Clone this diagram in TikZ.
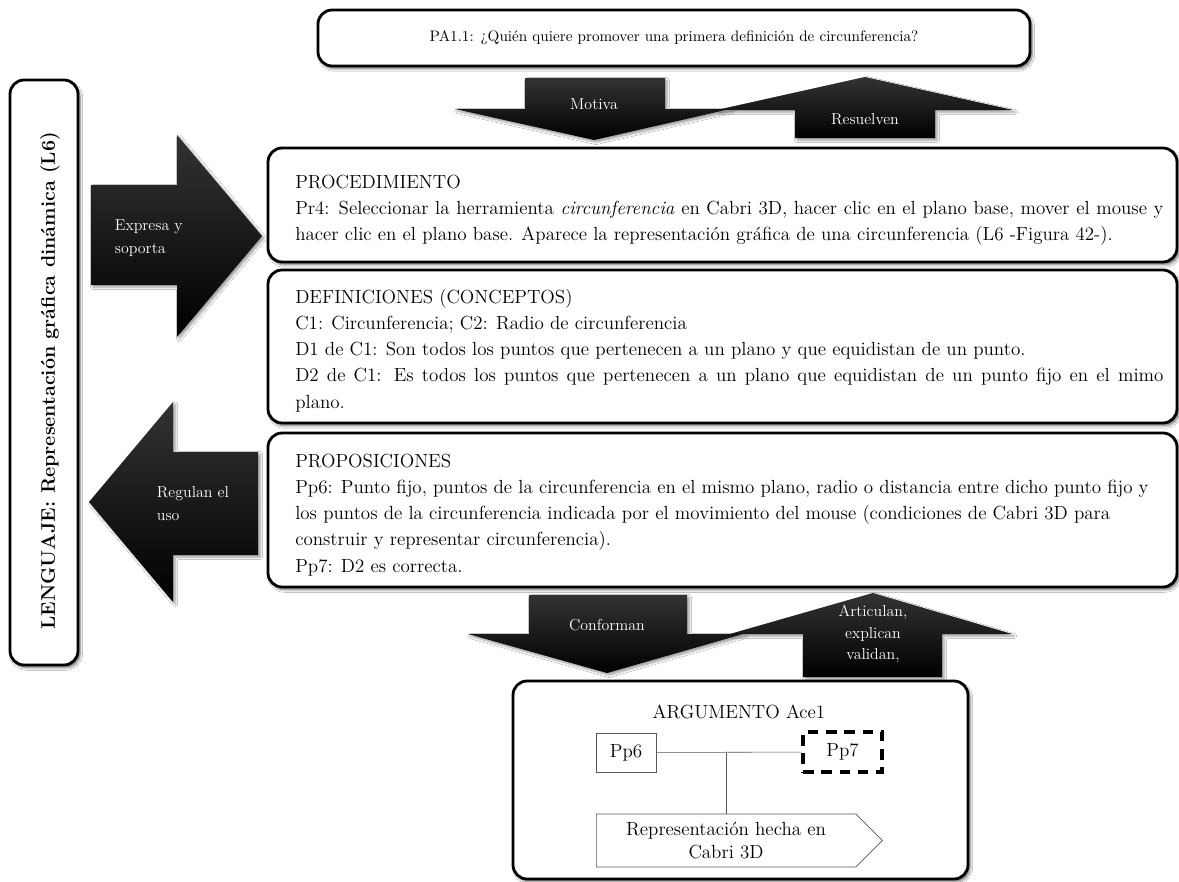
\documentclass[tikz,border=0pt]{standalone}
\usepackage{tikz}
\usetikzlibrary{shapes.symbols,positioning,calc,fit,shadows.blur}

\tikzset{
    caja/.style={draw, line width=2pt, rounded corners=10pt, fill=white, inner sep=0pt,
        blur shadow={shadow xshift=1.5pt, shadow yshift=-2pt, shadow blur steps=6, shadow opacity=55}},
    flecha/.style={top color=black!80, middle color=black, bottom color=black,
        blur shadow={shadow xshift=1.5pt, shadow yshift=-1.5pt, shadow blur steps=6, shadow opacity=40}},
    etiq/.style={text=white, align=center, font=\fontsize{11.3}{16.3}\selectfont},
    texto/.style={anchor=base west, inner sep=0pt, text width=21.7cm, align=justify,
        font=\fontsize{13.5}{18.7}\selectfont},
    dato/.style={draw=black!65, thin, inner sep=2pt, font=\fontsize{13.5}{16}\selectfont},
}

\begin{document}
\begin{tikzpicture}[x=0.025cm, y=-0.025cm]
    \fill[white] (0,0) rectangle (1179,882); % page
    \useasboundingbox (0,0) rectangle (1179,882);

    % pregunta inicial
    \node[caja, fit={(318,10) (1030,66)}] (pa) {};
    \node[font=\fontsize{10.8}{13}\selectfont] (patxt) at (pa.center) {PA1.1: ¿Quién quiere promover una primera definición de circunferencia?};

    % lenguaje (vertical)
    \node[caja, fit={(10,80) (78,665)}] (lang) {};
    \node[rotate=90, font=\bfseries\fontsize{14}{16}\selectfont] (langtxt) at (50,381) {LENGUAJE: Representación gráfica dinámica (L6)};

    % procedimiento, definiciones, proposiciones
    \node[caja, fit={(268,148) (1177,262)}] (proc) {};
    \node[texto] (proctxt) at (295,188) {PROCEDIMIENTO\\
        Pr4: Seleccionar la herramienta \emph{circunferencia} en Cabri 3D, hacer clic en el plano base, mover el mouse y\linebreak
        hacer clic en el plano base. Aparece la representación gráfica de una circunferencia (L6 -Figura 42-).};

    \node[caja, fit={(268,270) (1177,423)}] (defs) {};
    \node[texto] (defstxt) at (295,303) {DEFINICIONES (CONCEPTOS)\\
        C1: Circunferencia; C2: Radio de circunferencia\\
        D1 de C1: Son todos los puntos que pertenecen a un plano y que equidistan de un punto.\\
        D2 de C1: Es todos los puntos que pertenecen a un plano que equidistan de un punto fijo en el mimo\linebreak
        plano.};

    \node[caja, fit={(268,433) (1177,587)}] (props) {};
    \node[texto] (propstxt) at (295,467) {PROPOSICIONES\\
        Pp6: Punto fijo, puntos de la circunferencia en el mismo plano, radio o distancia entre dicho punto fijo y\\
        los puntos de la circunferencia indicada por el movimiento del mouse (condiciones de Cabri 3D para\\
        construir y representar circunferencia).\\
        Pp7: D2 es correcta.};

    % flechas de arriba
    \shade[flecha] (525,78) -- (665,78) -- (665,109) -- (730,109) -- (594,140) -- (455,109) -- (525,109) -- cycle; % baja
    \node[etiq] (motiva) at (594,104) {Motiva};
    \shade[flecha] (865,77) -- (1013,110) -- (935,110) -- (935,138) -- (795,138) -- (795,110) -- (717,110) -- cycle; % sube
    \node[etiq] (resuelven) at (865,119) {Resuelven};

    % flechas laterales
    \shade[flecha] (91,185) -- (177,185) -- (177,135) -- (262,236) -- (177,337) -- (177,285) -- (91,285) -- cycle; % derecha
    \node[etiq, align=left, anchor=base west] (expresa) at (110,253) {Expresa y\\soporta};
    \shade[flecha] (258,452) -- (173,452) -- (173,402) -- (89,502) -- (173,602) -- (173,555) -- (258,555) -- cycle; % izquierda
    \node[etiq, align=left, anchor=base west] (regulan) at (152,520) {Regulan el\\uso};

    % flechas de abajo
    \shade[flecha] (529,595) -- (687,595) -- (687,634) -- (743,634) -- (607,673) -- (468,634) -- (529,634) -- cycle; % baja
    \node[etiq] (conforman) at (607,625) {Conforman};
    \shade[flecha] (873,593) -- (1012,634) -- (942,634) -- (942,677) -- (803,677) -- (803,634) -- (730,634) -- cycle; % sube
    \node[etiq, font=\fontsize{11.3}{15.5}\selectfont] (articulan) at (873,634) {Articulan,\\explican\\validan,};

    % argumento
    \node[caja, fit={(513,681) (968,879)}] (arg) {};
    \node[font=\fontsize{13.5}{16}\selectfont] (argtit) at (739,712) {ARGUMENTO Ace1};
    \node[dato, minimum width=1.5cm, minimum height=0.975cm] (pp6) at (626,752.5) {Pp6};
    \node[dato, draw=black, line width=2.2pt, dash pattern=on 7.5pt off 5.5pt,
        minimum width=1.975cm, minimum height=1cm] (pp7) at (842.5,752) {Pp7};
    \coordinate (jn) at (726,752.5);
    \node[dato, signal, signal to=east, signal pointer angle=90, align=center, anchor=west,
        minimum width=7.15cm, minimum height=1.325cm, font=\fontsize{13.5}{16.5}\selectfont] (rep) at (596,840.5) {Representación hecha en\\Cabri 3D};
    \draw[black!65] (pp6) -- (pp7);
    \draw[black!65] (jn) -- (jn |- rep.north);
\end{tikzpicture}
\end{document}
